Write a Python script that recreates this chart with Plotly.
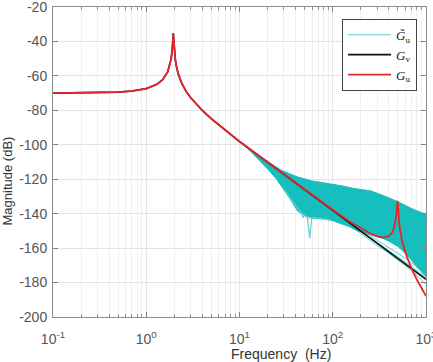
import plotly.graph_objects as go

# ---------------- data ----------------
freq_hz = [0.1, 0.2, 0.3, 0.5, 0.7, 1.0, 1.3, 1.5, 1.7, 1.8, 1.85, 1.9, 1.93, 1.95, 1.97,
           2.0, 2.05, 2.1, 2.2, 2.4, 2.7, 3, 4, 5, 7, 10, 15, 20, 30, 50, 70, 100, 150,
           200, 250, 300, 350, 400, 430, 450, 470, 480, 490, 495, 500, 510, 520, 550,
           600, 700, 800, 1000]

gv_db = [-70.0, -69.9, -69.8, -69.4, -68.8, -67.4, -64.9, -62.2, -57.6, -53.4, -50.1, -44.6,
         -38.7, -35.1, -38.8, -44.8, -50.6, -54.1, -58.7, -64.2, -69.3, -72.7, -80.1, -84.9,
         -91.5, -98.1, -105.1, -110.1, -117.2, -126.1, -131.9, -138.1, -145.2, -150.1,
         -154.0, -157.2, -159.9, -162.2, -163.4, -164.3, -165.0, -165.4, -165.8, -165.9,
         -166.1, -166.4, -166.8, -167.8, -169.2, -171.9, -174.2, -178.1]

gu_db = [-70.0, -69.9, -69.8, -69.4, -68.8, -67.4, -64.9, -62.2, -57.6, -53.4, -50.1, -44.6,
         -38.7, -35.1, -38.8, -44.8, -50.6, -54.1, -58.7, -64.2, -69.3, -72.7, -80.1, -84.9,
         -91.5, -98.1, -105.1, -110.1, -117.2, -126.1, -131.9, -137.7, -144.4, -148.5,
         -151.4, -153.2, -153.9, -153.0, -151.2, -149.1, -145.1, -141.5, -135.0, -132.5,
         -135.5, -142.7, -147.2, -155.2, -162.6, -171.9, -178.4, -187.9]

# envelope of the family of uncertain models (G~u)
band_upper_hz = [10, 13, 18, 28, 42, 60, 74, 95, 130, 170, 257, 350, 500, 700, 1000]
band_upper_db = [-98.1, -102.5, -108.0, -114.8, -118.7, -121.0, -121.8, -122.5, -124.0,
                 -125.4, -126.8, -129.5, -133.1, -137.0, -140.5]
band_lower_hz = [10, 13, 16, 20, 25, 30, 35, 42, 50, 63, 74, 95, 122, 150, 184, 250, 300,
                 350, 400, 450, 500, 600, 700, 800, 900, 1000]
band_lower_db = [-98.1, -103.5, -108.5, -114.0, -120.0, -126.0, -131.5, -138.5, -141.0,
                 -142.7, -142.9, -143.7, -145.6, -147.5, -150.0, -152.0, -153.5, -154.5,
                 -156.0, -157.5, -159.0, -163.0, -167.0, -171.0, -174.0, -176.5]

# individual model curves visible outside the dense band
notch_hz = [30, 40, 45, 50, 53.5, 56.6, 59.5, 65, 80, 95]
notch_db = [-126.0, -135.5, -139.0, -141.0, -142.5, -154.3, -142.5, -142.3, -143.0, -143.7]
ripple_hz = [40, 46, 48, 50, 52, 55, 58, 62, 70]
ripple_db = [-136.0, -139.5, -142.5, -140.0, -141.5, -143.5, -141.0, -142.0, -142.5]
tail_hz = [150, 200, 300, 400, 500, 700, 1000]
tail_a_db = [-145.5, -150.3, -157.0, -161.5, -165.0, -170.5, -176.8]
tail_b_db = [-146.5, -151.5, -158.5, -163.0, -166.8, -173.0, -181.0]
tail_c_db = [-144.8, -149.0, -155.5, -159.5, -163.0, -168.5, -175.0]

x_tick_vals = [0.1, 1, 10, 100, 1000]
x_tick_text = ["10<sup>-1</sup>", "10<sup>0</sup>", "10<sup>1</sup>", "10<sup>2</sup>", "10<sup>3</sup>"]
y_tick_vals = [-200, -180, -160, -140, -120, -100, -80, -60, -40, -20]
y_tick_text = ["-200", "-180", "-160", "-140", "-120", "-100", "-80", "-60", "-40", "-20"]

legend_names = ["<i>G̃</i><sub>u</sub>", "<i>G</i><sub>v</sub>", "<i>G</i><sub>u</sub>"]

CYAN = "#17BEBE"
BLACK = "#111111"
RED = "#E3262B"

# ---------------- figure ----------------
fig = go.Figure()

fig.add_trace(go.Scatter(
    x=band_upper_hz + band_lower_hz[::-1],
    y=band_upper_db + band_lower_db[::-1],
    mode="lines", fill="toself", fillcolor=CYAN,
    line=dict(color=CYAN, width=1), showlegend=False, hoverinfo="skip"))

for yy in (tail_a_db, tail_b_db, tail_c_db):
    fig.add_trace(go.Scatter(x=tail_hz, y=yy, mode="lines",
                             line=dict(color=CYAN, width=1), opacity=0.7,
                             showlegend=False))
fig.add_trace(go.Scatter(x=ripple_hz, y=ripple_db, mode="lines",
                         line=dict(color=CYAN, width=1), opacity=0.7, showlegend=False))
fig.add_trace(go.Scatter(x=notch_hz, y=notch_db, mode="lines",
                         line=dict(color="#5fd0d0", width=1.2), name=legend_names[0]))

fig.add_trace(go.Scatter(x=freq_hz, y=gv_db, mode="lines",
                         line=dict(color=BLACK, width=1.6), name=legend_names[1]))
fig.add_trace(go.Scatter(x=freq_hz, y=gu_db, mode="lines",
                         line=dict(color=RED, width=1.8), name=legend_names[2]))

minor_vals = [m * 10 ** e for e in (-1, 0, 1, 2) for m in range(2, 10)]
axis_font = dict(family="Liberation Sans, Arial, sans-serif", size=14, color="#555555")

fig.update_xaxes(
    type="log", range=[-1, 3], automargin=False,
    tickmode="array", tickvals=x_tick_vals, ticktext=x_tick_text,
    ticks="inside", ticklen=5, tickcolor="#808080",
    showline=True, linecolor="#8c8c8c", linewidth=1, mirror="ticks",
    showgrid=True, gridcolor="#e4e4e4", gridwidth=1, zeroline=False,
    minor=dict(tickmode="array", tickvals=minor_vals, ticks="inside", ticklen=3,
               tickcolor="#909090", showgrid=True, gridcolor="#f0f0f0", gridwidth=1),
    tickfont=axis_font, ticklabeloverflow="allow", ticklabelstandoff=9)
fig.update_yaxes(
    range=[-200, -20], automargin=False,
    tickmode="array", tickvals=y_tick_vals, ticktext=y_tick_text,
    ticks="inside", ticklen=5, tickcolor="#808080",
    showline=True, linecolor="#8c8c8c", linewidth=1, mirror="ticks",
    showgrid=True, gridcolor="#e4e4e4", gridwidth=1, zeroline=False,
    tickfont=axis_font, ticklabeloverflow="allow", ticklabelstandoff=2)

fig.add_annotation(text="Frequency  (Hz)", xref="paper", yref="paper",
                   x=0.611, y=-0.119, xanchor="center", yanchor="middle",
                   showarrow=False, font=dict(family="Liberation Sans, Arial, sans-serif",
                                              size=14, color="#333333"))
fig.add_annotation(text="Magnitude (dB)", xref="paper", yref="paper",
                   x=-0.121, y=0.44, xanchor="center", yanchor="middle", textangle=-90,
                   showarrow=False, font=dict(family="Liberation Sans, Arial, sans-serif",
                                              size=13, color="#333333"))

fig.update_layout(
    width=433, height=362,
    margin=dict(l=53, r=7, t=7, b=45, autoexpand=False),
    paper_bgcolor="white", plot_bgcolor="white",
    showlegend=True,
    legend=dict(x=0.976, y=0.962, xanchor="right", yanchor="top",
                bgcolor="white", bordercolor="#444444", borderwidth=1,
                font=dict(family="Liberation Serif, DejaVu Serif, serif", size=13,
                          color="#222222"),
                tracegroupgap=0, itemwidth=43),
)

fig.write_html("out.html")
